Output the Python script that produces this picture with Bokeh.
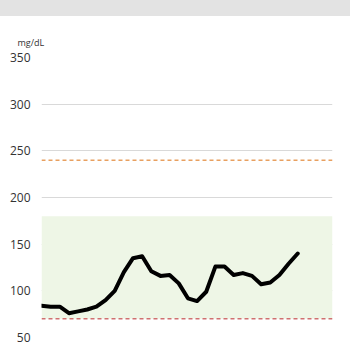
from bokeh.plotting import figure
from bokeh.models import BoxAnnotation, Span, Div, FixedTicker, Range1d
from bokeh.layouts import column
from bokeh.embed import file_html
from bokeh.resources import INLINE

# data
readings = [84, 83, 83, 76, 78, 80, 83, 90, 100, 120, 135, 137, 121, 116, 117,
            108, 92, 89, 99, 126, 126, 117, 119, 116, 107, 109, 117, 129, 140]
steps = list(range(len(readings)))
y_ticks = [50, 100, 150, 200, 250, 300, 350]
target_low = 70
target_high = 180
high_alert = 240
unit_label = "mg/dL"

p = figure(width=350, height=334, output_backend="svg", toolbar_location=None,
           x_range=Range1d(0, 31.8), y_range=Range1d(50, 350),
           min_border_top=41, min_border_bottom=13, min_border_left=41, min_border_right=18,
           title=unit_label)
p.title.align = "left"
p.title.offset = -24
p.title.text_font = "Open Sans"
p.title.text_font_size = "9px"
p.title.text_font_style = "normal"
p.title.text_color = "#333333"
p.title.standoff = 17
p.outline_line_color = None
p.xaxis.visible = False
p.xgrid.visible = False
p.yaxis.ticker = FixedTicker(ticks=y_ticks)
p.yaxis.axis_line_color = None
p.yaxis.major_tick_line_color = None
p.yaxis.minor_tick_line_color = None
p.yaxis.major_label_standoff = 5
p.yaxis.major_label_text_font = "Open Sans"
p.yaxis.major_label_text_font_size = "12px"
p.yaxis.major_label_text_color = "#333333"
p.ygrid.grid_line_color = "#d9d9d9"
p.ygrid.grid_line_width = 1

p.add_layout(BoxAnnotation(bottom=target_low, top=target_high, fill_color="#eef6e6",
                           fill_alpha=1, line_color=None, level="underlay"))
p.add_layout(Span(location=high_alert, dimension="width", line_color="#e8a060",
                  line_width=1.5, line_dash="4 3"))
p.add_layout(Span(location=target_low, dimension="width", line_color="#d07070",
                  line_width=1.5, line_dash="4 3"))

p.line(steps, readings, line_color="black", line_width=4, line_join="round", line_cap="round")

banner = Div(text="", width=350, height=16, margin=0,
             styles={"background-color": "#e3e3e3"})
layout = column(banner, p, spacing=0)

open("out.html", "w").write(file_html(layout, INLINE))
